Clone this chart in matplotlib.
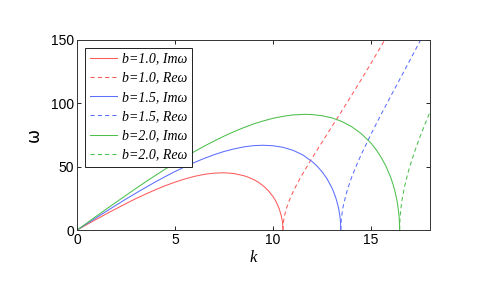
import matplotlib
matplotlib.use("Agg")
import matplotlib.pyplot as plt

# ---- data ----
k_im_b10 = [0, 0.5, 1, 1.5, 2, 2.5, 3, 3.5, 4, 4.5, 5, 5.5, 6, 6.5, 7, 7.5, 8, 8.5, 8.75, 9,
            9.25, 9.5, 9.75, 10, 10.1, 10.2, 10.3, 10.4, 10.45, 10.47, 10.49, 10.5]
w_im_b10 = [0, 4.3, 8.6, 12.8, 16.9, 20.9, 24.8, 28.4, 31.8, 35.0, 37.8, 40.3, 42.4, 44.0, 44.9, 45.2, 44.6, 42.9, 41.6, 39.9,
            37.7, 34.8, 31.2, 26.3, 23.8, 20.8, 17.2, 12.3, 8.8, 6.8, 3.9, 0]
k_re_b10 = [10.5, 10.51, 10.55, 10.6, 10.7, 10.85, 11, 11.25, 11.5, 12, 12.5, 13, 13.5, 14, 14.5, 15, 15.5, 16]
w_re_b10 = [0, 3.9, 8.9, 12.6, 18.1, 24.3, 29.6, 37.3, 44.2, 57.2, 69.5, 81.7, 93.9, 106.3, 118.9, 131.8, 144.9, 158.4]

k_im_b15 = [0, 0.5, 1, 1.5, 2, 2.5, 3, 3.5, 4, 4.5, 5, 5.5, 6, 6.5, 7, 7.5, 8, 8.5, 9, 9.5, 10, 10.5, 11,
            11.5, 12, 12.25, 12.5, 12.75, 13, 13.1, 13.2, 13.3, 13.35, 13.4, 13.42, 13.435, 13.445, 13.45]
w_im_b15 = [0, 5.0, 9.9, 14.8, 19.7, 24.5, 29.1, 33.6, 38.0, 42.2, 46.2, 49.9, 53.4, 56.6, 59.5, 62.0, 64.0, 65.6, 66.6, 66.9, 66.5, 65.3, 63.0,
            59.4, 53.9, 50.3, 45.9, 40.4, 33.2, 29.5, 25.2, 19.7, 16.2, 11.5, 8.9, 6.3, 3.6, 0]
k_re_b15 = [13.45, 13.455, 13.48, 13.54, 13.6, 13.8, 14, 14.25, 14.5, 15, 15.5, 16, 16.5, 17, 17.5, 18]
w_re_b15 = [0, 3.7, 9.3, 16.1, 20.9, 32.5, 41.5, 51.1, 59.8, 75.9, 91.1, 105.7, 120.2, 134.7, 149.4, 164.1]

k_im_b20 = [0, 0.5, 1, 1.5, 2, 2.5, 3, 3.5, 4, 4.5, 5, 5.5, 6, 6.5, 7, 7.5, 8, 8.5, 9, 9.5, 10, 10.5, 11, 11.6,
            12, 12.5, 13, 13.5, 14, 14.5, 15, 15.25, 15.5, 15.75, 16, 16.1, 16.2, 16.3, 16.35, 16.4, 16.42, 16.435, 16.445, 16.45]
w_im_b20 = [0, 5.5, 11.1, 16.6, 22.0, 27.4, 32.8, 38.0, 43.1, 48.1, 52.7, 57.6, 62.0, 66.3, 70.3, 74.1, 77.6, 80.8, 83.7, 86.1, 88.2, 89.7, 90.8, 91.3,
            91.1, 90.2, 88.5, 85.7, 81.6, 76.0, 68.4, 63.5, 57.6, 50.5, 41.3, 36.7, 31.2, 24.4, 20.0, 14.2, 11.0, 7.8, 4.5, 0]
k_re_b20 = [16.45, 16.455, 16.48, 16.54, 16.6, 16.7, 16.8, 16.9, 17, 17.25, 17.5, 17.75, 18]
w_re_b20 = [0, 4.7, 11.7, 20.2, 26.3, 34.1, 40.6, 46.4, 51.7, 63.5, 74.0, 83.9, 93.2]

labels = ["b=1.0, Im\u03c9", "b=1.0, Re\u03c9",
          "b=1.5, Im\u03c9", "b=1.5, Re\u03c9",
          "b=2.0, Im\u03c9", "b=2.0, Re\u03c9"]
x_ticks = [0, 5, 10, 15]
y_ticks = [0, 50, 100, 150]

# ---- styling ----
c_red = "#ff5a5a"
c_blue = "#5a6eff"
c_green = "#4cbf4c"
lw = 0.75
dash = (0, (4, 3))

fig = plt.figure(figsize=(4.98, 2.98), dpi=100)
ax = fig.add_axes([0.1546, 0.228, 0.7089, 0.638])

ax.plot(k_im_b10, w_im_b10, color=c_red, lw=lw, label=labels[0])
ax.plot(k_re_b10, w_re_b10, color=c_red, lw=lw, ls=dash, label=labels[1])
ax.plot(k_im_b15, w_im_b15, color=c_blue, lw=lw, label=labels[2])
ax.plot(k_re_b15, w_re_b15, color=c_blue, lw=lw, ls=dash, label=labels[3])
ax.plot(k_im_b20, w_im_b20, color=c_green, lw=lw, label=labels[4])
ax.plot(k_re_b20, w_re_b20, color=c_green, lw=lw, ls=dash, label=labels[5])

ax.set_xlim(0, 18)
ax.set_ylim(0, 150)
ax.set_xticks(x_ticks)
ax.set_yticks(y_ticks)
ax.tick_params(direction="in", length=3, width=0.6, top=True, right=True,
               labelsize=10, pad=2)
for lab in ax.get_xticklabels() + ax.get_yticklabels():
    lab.set_fontfamily("Liberation Sans")
for s in ax.spines.values():
    s.set_linewidth(0.7)
    s.set_color("#333333")

ax.set_xlabel("k", fontfamily="Liberation Serif", fontstyle="italic", fontsize=12, labelpad=2)
ax.set_ylabel("\u03c9", fontfamily="DejaVu Sans", fontsize=12, labelpad=6)

leg = ax.legend(loc="upper left", bbox_to_anchor=(0.022, 0.96),
                prop={"family": "Liberation Serif", "style": "italic", "size": 10},
                frameon=True, fancybox=False, framealpha=1, edgecolor="#222222",
                handlelength=2.0, handletextpad=0.3, labelspacing=0.45,
                borderpad=0.35, borderaxespad=0.0)
leg.get_frame().set_linewidth(0.7)

fig.savefig("out.png", dpi=100)
